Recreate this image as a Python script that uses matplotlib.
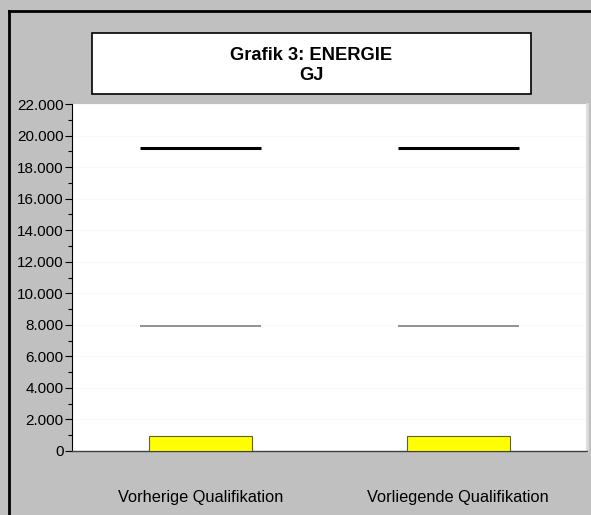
import matplotlib
matplotlib.use("Agg")
import matplotlib.pyplot as plt
from matplotlib.ticker import FuncFormatter, MultipleLocator
from matplotlib.patches import Rectangle
from matplotlib.lines import Line2D

categories = ["Vorherige Qualifikation", "Vorliegende Qualifikation"]
bar_values = [930, 930]
upper_line = [19200, 19200]
lower_line = [7900, 7900]
title_lines = ["Grafik 3: ENERGIE", "GJ"]

plt.rcParams['font.family'] = ['Liberation Sans', 'DejaVu Sans']

W, H = 591, 515
fig = plt.figure(figsize=(W / 100, H / 100), dpi=100)
fig.patch.set_facecolor('#c0c0c0')

ax = fig.add_axes([72 / W, 1 - 451 / H, (587 - 72) / W, (451 - 104) / H])
ax.set_facecolor('white')

x = list(range(len(categories)))
ax.bar(x, bar_values, width=0.4, color='#ffff00', edgecolor='#606030', linewidth=0.8, zorder=3)
ax.hlines(upper_line, [i - 0.235 for i in x], [i + 0.235 for i in x], colors='black', linewidth=2.2, zorder=4)
ax.hlines(lower_line, [i - 0.235 for i in x], [i + 0.235 for i in x], colors='#808080', linewidth=1.2, zorder=4)

ax.set_xlim(-0.5, 1.5)
ax.set_ylim(0, 22000)
ax.yaxis.set_major_locator(MultipleLocator(2000))
ax.yaxis.set_minor_locator(MultipleLocator(1000))
ax.yaxis.set_major_formatter(FuncFormatter(lambda v, p: f"{int(v):,}".replace(",", ".")))
ax.grid(axis='y', color='#f9f9f9', linewidth=0.8, zorder=0)
ax.set_axisbelow(True)

ax.set_xticks(x)
ax.set_xticklabels(categories, fontsize=11.8)
ax.tick_params(axis='x', length=0, pad=28)
ax.tick_params(axis='y', which='major', length=5, width=0.8, labelsize=11, pad=1, colors='black')
ax.tick_params(axis='y', which='minor', length=3, width=0.8, colors='black')

ax.spines['top'].set_visible(False)
ax.spines['right'].set_color('#dcdcdc')
ax.spines['right'].set_linewidth(2)
ax.spines['left'].set_color('black')
ax.spines['left'].set_linewidth(0.8)
ax.spines['bottom'].set_color('#404040')
ax.spines['bottom'].set_linewidth(1)

# Title box
box = Rectangle((92 / W, 1 - 94 / H), (531 - 92) / W, (94 - 33) / H,
                transform=fig.transFigure, facecolor='white', edgecolor='black', linewidth=1.2)
fig.patches.append(box)
fig.text(311 / W, 1 - 55 / H, title_lines[0], ha='center', va='center', fontsize=13.2, fontweight='bold')
fig.text(311 / W, 1 - 75.5 / H, title_lines[1], ha='center', va='center', fontsize=13.2, fontweight='bold')

# Figure border (top and left)
fig.lines.append(Line2D([9 / W, 9 / W], [0, 1 - 11 / H], transform=fig.transFigure, color='black', linewidth=2))
fig.lines.append(Line2D([9 / W, 1], [1 - 11 / H, 1 - 11 / H], transform=fig.transFigure, color='black', linewidth=2))

fig.savefig('out.png', dpi=100, facecolor=fig.get_facecolor())
